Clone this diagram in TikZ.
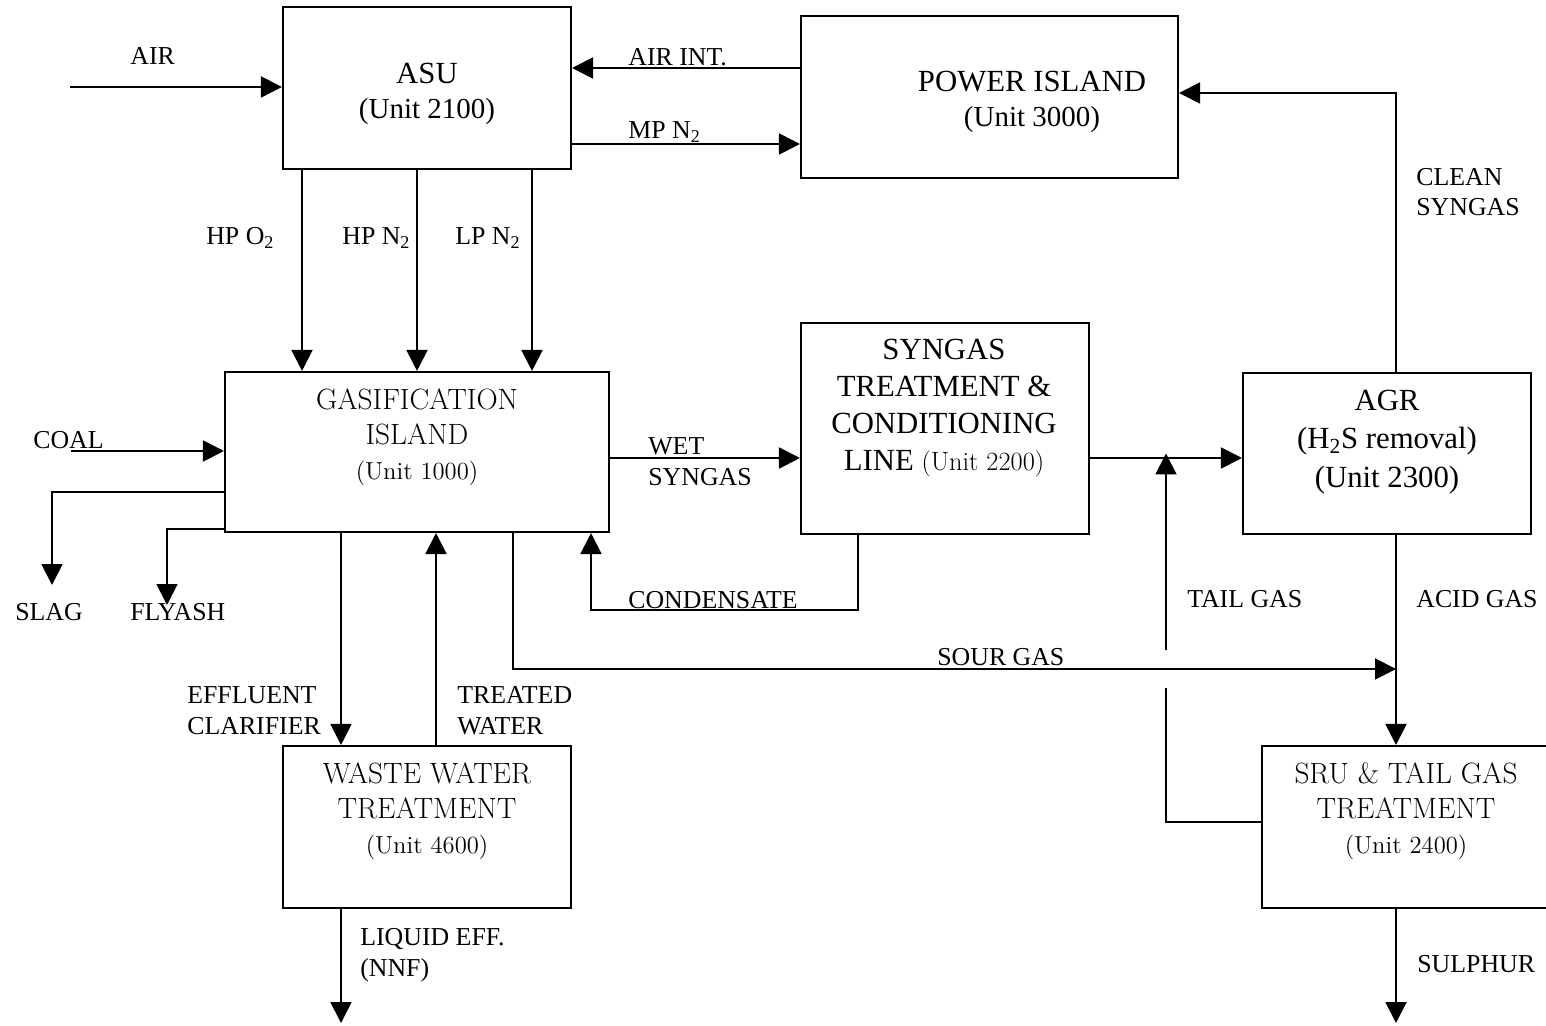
\documentclass[tikz,border=0pt]{standalone}
\usepackage{fontspec}
\newfontfamily\timesfont{Liberation Serif}
\usetikzlibrary{arrows.meta}

\begin{document}
\begin{tikzpicture}[x=0.02cm, y=-0.02cm, >={Triangle[length=4.2mm, width=4.2mm]},
	unitbox/.style={draw, line width=1.2pt, inner sep=0pt},
	flow/.style={->, line width=1.1pt},
	pipe/.style={line width=1.1pt},
	tname/.style={font=\timesfont\fontsize{17.5}{20}\selectfont, align=center, inner sep=0pt},
	gname/.style={font=\fontsize{16.7}{20}\selectfont, align=center, inner sep=0pt},
	lbl/.style={font=\timesfont\fontsize{14.7}{17.5}\selectfont, align=left, anchor=west, inner sep=0pt}]
	\useasboundingbox (0,0) rectangle (1546,1026);
	% process units
	\node[unitbox, minimum width=5.76cm, minimum height=3.24cm] (asu) at (427,88) {};
	\node[unitbox, minimum width=7.54cm, minimum height=3.24cm] (power) at (989.5,97) {};
	\node[unitbox, minimum width=7.68cm, minimum height=3.2cm] (gasif) at (417,452) {};
	\node[unitbox, minimum width=5.76cm, minimum height=4.22cm] (syn) at (945,428.5) {};
	\node[unitbox, minimum width=5.76cm, minimum height=3.22cm] (agr) at (1387,453.5) {};
	\node[unitbox, minimum width=5.76cm, minimum height=3.24cm] (wwt) at (427,827) {};
	\node[unitbox, minimum width=5.76cm, minimum height=3.24cm] (sru) at (1406,827) {};
	\node[tname] (asu-t) at (427,94) {ASU\\{\fontsize{16.5}{20}\selectfont(Unit 2100)}};
	\node[tname] (power-t) at (1032,102) {POWER ISLAND\\{\fontsize{16.5}{20}\selectfont(Unit 3000)}};
	\node[gname] (gasif-t) at (417,437) {GASIFICATION\\ISLAND\\{\fontsize{14}{20}\selectfont(Unit 1000)}};
	\node[tname, font=\timesfont\fontsize{17.5}{21.2}\selectfont] (syn-t) at (944,408)
		{SYNGAS\\TREATMENT \&\\CONDITIONING\\LINE {\normalfont\fontsize{15}{21.2}\selectfont(Unit 2200)}};
	\node[tname, font=\timesfont\fontsize{17.5}{22}\selectfont] (agr-t) at (1387,442)
		{AGR\\(H\textsubscript{2}S removal)\\(Unit 2300)};
	\node[gname] (wwt-t) at (427,811) {WASTE WATER\\TREATMENT\\{\fontsize{14}{20}\selectfont(Unit 4600)}};
	\node[gname] (sru-t) at (1406,811) {SRU \& TAIL GAS\\TREATMENT\\{\fontsize{14}{20}\selectfont(Unit 2400)}};
	% stream labels
	\node[lbl] (l-air) at (130,56) {AIR};
	\node[lbl] (l-airint) at (628,57) {AIR INT.};
	\node[lbl] (l-mpn) at (628,132) {MP N\textsubscript{2}};
	\node[lbl] (l-hpo) at (206,238) {HP O\textsubscript{2}};
	\node[lbl] (l-hpn) at (342,238) {HP N\textsubscript{2}};
	\node[lbl] (l-lpn) at (455,238) {LP N\textsubscript{2}};
	\node[lbl] (l-coal) at (33,440) {COAL};
	\node[lbl] (l-slag) at (15,612) {SLAG};
	\node[lbl] (l-fly) at (130,612) {FLYASH};
	\node[lbl] (l-wet) at (648,462) {WET\\SYNGAS};
	\node[lbl] (l-cond) at (628,600) {CONDENSATE};
	\node[lbl] (l-sour) at (937,657) {SOUR GAS};
	\node[lbl] (l-tail) at (1187,599) {TAIL GAS};
	\node[lbl] (l-acid) at (1416,599) {ACID GAS};
	\node[lbl] (l-clean) at (1416,192) {CLEAN\\SYNGAS};
	\node[lbl] (l-eff) at (187,711) {EFFLUENT\\CLARIFIER};
	\node[lbl] (l-treat) at (457,711) {TREATED\\WATER};
	\node[lbl] (l-liq) at (360,955) {LIQUID EFF.\\(NNF)};
	\node[lbl] (l-sulph) at (1417,964) {SULPHUR};
	% free ends
	\coordinate (airin) at (70,87);
	\coordinate (coalin) at (71,451);
	\coordinate (slagout) at (52,585);
	\coordinate (flyout) at (167,605);
	\coordinate (liqout) at (341,1023);
	\coordinate (sulphout) at (1396,1023);
	% streams
	\draw[flow] (airin) -- (airin -| asu.west);
	\draw[flow] (power.west |- 0,68) -- (asu.east |- 0,68);
	\draw[flow] (asu.east |- 0,144) -- (power.west |- 0,144);
	\foreach \xs in {302,417,532}
		\draw[flow] (asu.south -| \xs,0) -- (gasif.north -| \xs,0);
	\draw[flow] (coalin) -- (coalin -| gasif.west);
	\draw[flow] (gasif.west |- 0,492) -| (slagout);
	\draw[flow] (gasif.west |- 0,529) -| (flyout);
	\draw[flow] (gasif.east |- 0,458) -- (syn.west |- 0,458);
	\draw[flow] (syn.east |- 0,458) -- (agr.west |- 0,458);
	\draw[flow] (syn.south -| 858,0) -- (858,610) -| (gasif.south -| 591,0);
	\draw[flow] (agr.north -| 1396,0) |- (power.east |- 0,93);
	\draw[flow] (agr.south -| 1396,0) -- (sru.north -| 1396,0);
	\draw[flow] (gasif.south -| 513,0) |- (1396,669);
	\draw[pipe] (sru.west |- 0,822) -| (1166,688);
	\draw[flow] (1166,650) -- (agr.west -| 1166,0);
	\draw[flow] (gasif.south -| 341,0) -- (wwt.north -| 341,0);
	\draw[flow] (wwt.north -| 436,0) -- (gasif.south -| 436,0);
	\draw[flow] (wwt.south -| 341,0) -- (liqout);
	\draw[flow] (sru.south -| 1396,0) -- (sulphout);
\end{tikzpicture}
\end{document}
